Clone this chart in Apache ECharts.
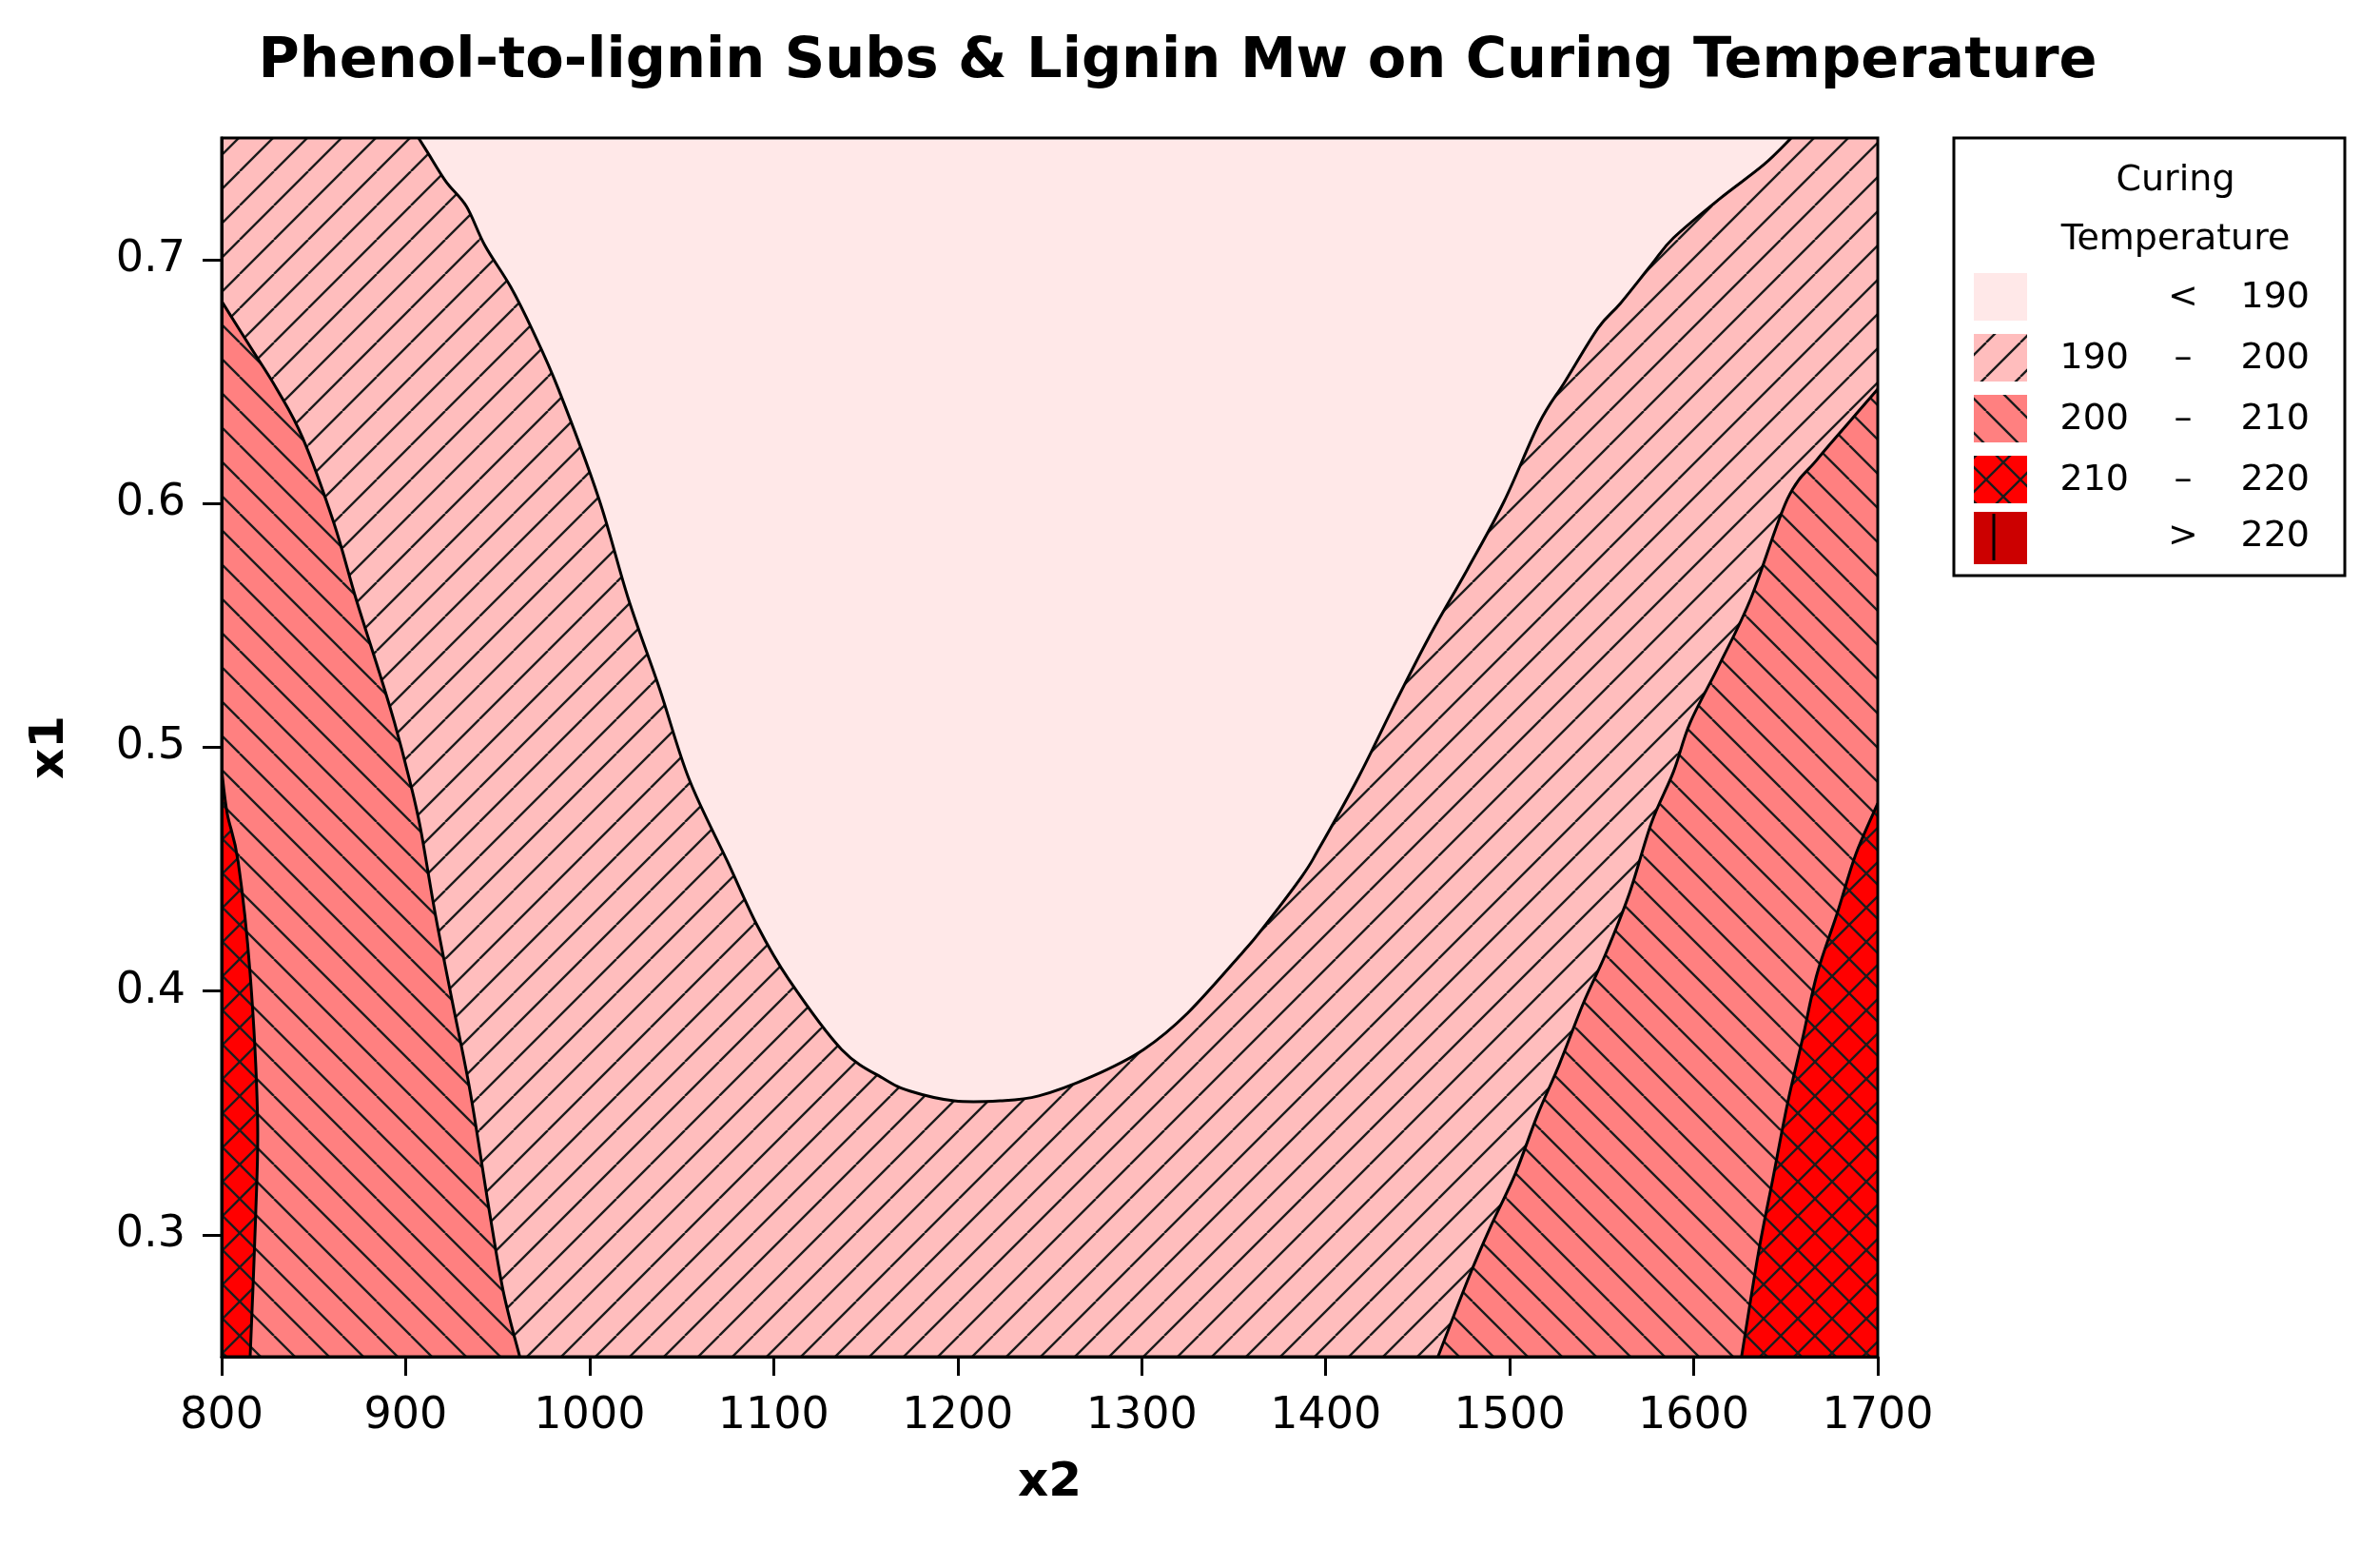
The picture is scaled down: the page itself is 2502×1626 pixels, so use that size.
<!DOCTYPE html>
<html>
<head>
<meta charset="utf-8">
<script src="https://cdn.jsdelivr.net/npm/echarts@6/dist/echarts.min.js"></script>
<style>
html, body { margin: 0; padding: 0; background: #fff; }
#main { width: 2502px; height: 1626px; }
</style>
</head>
<body>
<div id="main"></div>
<script>
// axis ticks
const xTicks = [800, 900, 1000, 1100, 1200, 1300, 1400, 1500, 1600, 1700];
const yTicks = [0.3, 0.4, 0.5, 0.6, 0.7];

// contour levels (legend)
const levelLow = ['', '190', '200', '210', ''];
const levelSep = ['<', '–', '–', '–', '>'];
const levelHigh = ['190', '200', '210', '220', '220'];
const levelColors = ['#FFE8E8', '#FFBDBD', '#FF8080', '#FF0000', '#CC0000'];
const levelHatch = ['none', 'up', 'down', 'cross', 'vert'];

// contour boundaries, [x2, x1]
// < 190 | 190-200 (U shape)
const curveA = [[907, 0.75], [912, 0.744], [922, 0.732], [933, 0.722], [943, 0.706], [957, 0.689],
    [969, 0.671], [983, 0.647], [1005, 0.602], [1021, 0.561], [1038, 0.524], [1054, 0.487],
    [1075, 0.453], [1091, 0.427], [1108, 0.405], [1137, 0.376], [1160, 0.364], [1174, 0.359],
    [1198, 0.355], [1223, 0.355], [1244, 0.357], [1273, 0.365], [1301, 0.376], [1325, 0.391],
    [1355, 0.416], [1365, 0.425], [1387, 0.447], [1396, 0.458], [1418, 0.488], [1437, 0.517],
    [1456, 0.545], [1477, 0.573], [1497, 0.601], [1516, 0.633], [1530, 0.65], [1548, 0.672],
    [1560, 0.682], [1577, 0.698], [1589, 0.709], [1614, 0.725], [1638, 0.739], [1653, 0.75]];
// 190-200 | 200-210, left
const curveB = [[800, 0.683], [815, 0.665], [830, 0.647], [844, 0.627], [861, 0.592], [873, 0.561],
    [886, 0.53], [894, 0.51], [902, 0.487], [908, 0.467], [916, 0.432], [925, 0.397],
    [935, 0.359], [945, 0.312], [953, 0.277], [962, 0.25]];
// 200-210 | 210-220, left strip
const curveC = [[800, 0.491], [803, 0.473], [809, 0.453], [815.5, 0.407], [819.5, 0.349],
    [818.5, 0.308], [815.5, 0.25]];
// 190-200 | 200-210, right
const curveD = [[1700, 0.647], [1684, 0.633], [1667, 0.618], [1651, 0.602], [1631, 0.561],
    [1614, 0.534], [1598, 0.51], [1589, 0.49], [1577, 0.469], [1565, 0.44], [1552, 0.415],
    [1540, 0.395], [1527, 0.37], [1515, 0.349], [1503, 0.325], [1490, 0.304], [1478, 0.283],
    [1461, 0.25]];
// 200-210 | 210-220, right
const curveE = [[1700, 0.477], [1688, 0.456], [1678, 0.432], [1667, 0.407], [1659, 0.38],
    [1651, 0.354], [1643, 0.323], [1635, 0.292], [1626, 0.25]];

const FONT = '"DejaVu Sans", Verdana, sans-serif';

// hatch fill as a repeating canvas pattern
function makePattern(color, hatch) {
    if (hatch === 'none') return color;
    const p = 36;
    const c = document.createElement('canvas');
    c.width = p;
    c.height = p;
    const ctx = c.getContext('2d');
    ctx.fillStyle = color;
    ctx.fillRect(0, 0, p, p);
    ctx.strokeStyle = '#1c1c1c';
    ctx.lineWidth = 2.4;
    ctx.beginPath();
    for (let k = -1; k <= 1; k++) {
        if (hatch === 'up' || hatch === 'cross') {
            ctx.moveTo(k * p, p);
            ctx.lineTo(k * p + p, 0);
        }
        if (hatch === 'down' || hatch === 'cross') {
            ctx.moveTo(k * p, 0);
            ctx.lineTo(k * p + p, p);
        }
    }
    ctx.stroke();
    return { image: c, repeat: 'repeat' };
}

const fills = levelColors.map((c, i) => makePattern(c, levelHatch[i]));

// filled regions, painted bottom to top; curve part is smoothed, corners stay sharp
const regions = [
    { level: 1, curve: [[800, 0.25], [1700, 0.25], [1700, 0.75], [800, 0.75]], flat: true, close: [] },
    { level: 0, curve: curveA, close: [] },
    { level: 2, curve: curveB, close: [[800, 0.25]] },
    { level: 2, curve: curveD, close: [[1700, 0.25]] },
    { level: 3, curve: curveC, close: [[800, 0.25]] },
    { level: 3, curve: curveE, close: [[1700, 0.25]] }
];
const boundaries = [curveA, curveB, curveC, curveD, curveE];

// cubic segments through pixel points (Catmull-Rom)
function smoothSegments(pts) {
    let d = '';
    const n = pts.length;
    for (let i = 0; i < n - 1; i++) {
        const p0 = pts[Math.max(i - 1, 0)];
        const p1 = pts[i];
        const p2 = pts[i + 1];
        const p3 = pts[Math.min(i + 2, n - 1)];
        const c1 = [p1[0] + (p2[0] - p0[0]) / 6, p1[1] + (p2[1] - p0[1]) / 6];
        const c2 = [p2[0] - (p3[0] - p1[0]) / 6, p2[1] - (p3[1] - p1[1]) / 6];
        d += ' C' + c1.join(',') + ' ' + c2.join(',') + ' ' + p2.join(',');
    }
    return d;
}

const chart = echarts.init(document.getElementById('main'));

// legend box
const legendFont = '38px ' + FONT;
const legendGraphics = [
    { type: 'rect', shape: { x: 2054, y: 145, width: 411, height: 460 },
      style: { fill: '#fff', stroke: '#000', lineWidth: 3 } },
    { type: 'text', style: { text: 'Curing', x: 2287, y: 190, font: legendFont,
      fill: '#000', textAlign: 'center', textVerticalAlign: 'middle' } },
    { type: 'text', style: { text: 'Temperature', x: 2287, y: 252, font: legendFont,
      fill: '#000', textAlign: 'center', textVerticalAlign: 'middle' } }
];
const rowTop = [287, 351, 415, 479, 538];
levelColors.forEach((c, i) => {
    const y = rowTop[i];
    const h = i === 4 ? 55 : 50;
    legendGraphics.push({ type: 'rect', shape: { x: 2075, y: y, width: 56, height: h },
        style: { fill: fills[i], stroke: 'none' } });
    if (levelHatch[i] === 'vert') {
        legendGraphics.push({ type: 'line', shape: { x1: 2096, y1: y + 2, x2: 2096, y2: y + h - 4 },
            style: { stroke: '#000', lineWidth: 3 } });
    }
    const ty = y + 26;
    legendGraphics.push({ type: 'text', style: { text: levelLow[i], x: 2238, y: ty,
        font: legendFont, fill: '#000', textAlign: 'right', textVerticalAlign: 'middle' } });
    legendGraphics.push({ type: 'text', style: { text: levelSep[i], x: 2295, y: ty,
        font: legendFont, fill: '#000', textAlign: 'center', textVerticalAlign: 'middle' } });
    legendGraphics.push({ type: 'text', style: { text: levelHigh[i], x: 2428, y: ty,
        font: legendFont, fill: '#000', textAlign: 'right', textVerticalAlign: 'middle' } });
});

const option = {
    backgroundColor: '#fff',
    animation: false,
    title: {
        text: 'Phenol-to-lignin Subs & Lignin Mw on Curing Temperature',
        left: 1233,
        textAlign: 'center',
        top: 31,
        textStyle: { fontFamily: FONT, fontWeight: 'bold', fontSize: 59, color: '#000' }
    },
    grid: {
        left: 233, top: 145, width: 1741, height: 1281,
        show: true, z: 10, backgroundColor: 'transparent',
        borderColor: '#000', borderWidth: 3
    },
    xAxis: {
        type: 'value', min: 800, max: 1700, interval: 100, z: 10,
        name: 'x2', nameLocation: 'middle', nameGap: 108,
        nameTextStyle: { fontFamily: FONT, fontWeight: 'bold', fontSize: 50, color: '#000' },
        axisLine: { lineStyle: { color: '#000', width: 3 } },
        axisTick: { length: 20, lineStyle: { color: '#000', width: 3 } },
        axisLabel: { margin: 40, fontFamily: FONT, fontSize: 46, color: '#000',
            customValues: xTicks, formatter: v => String(v) },
        splitLine: { show: false }
    },
    yAxis: {
        type: 'value', min: 0.25, max: 0.75, z: 10,
        name: 'x1', nameLocation: 'middle', nameGap: 155,
        nameTextStyle: { fontFamily: FONT, fontWeight: 'bold', fontSize: 50, color: '#000' },
        axisLine: { show: true, lineStyle: { color: '#000', width: 3 } },
        axisTick: { show: true, length: 20, lineStyle: { color: '#000', width: 3 },
            customValues: yTicks },
        axisLabel: { margin: 38, fontFamily: FONT, fontSize: 46, color: '#000',
            customValues: yTicks, formatter: v => v.toFixed(1) },
        splitLine: { show: false }
    },
    graphic: legendGraphics,
    series: [
        {
            // filled contour bands
            type: 'custom',
            clip: true,
            z: 2,
            silent: true,
            data: regions.map(r => r.curve[0]),
            renderItem: function (params, api) {
                const r = regions[params.dataIndex];
                const px = r.curve.map(p => api.coord(p));
                let d = 'M' + px[0].join(',');
                d += r.flat ? px.slice(1).map(p => ' L' + p.join(',')).join('') : smoothSegments(px);
                r.close.forEach(p => { d += ' L' + api.coord(p).join(','); });
                d += ' Z';
                return {
                    type: 'path',
                    shape: { pathData: d },
                    style: { fill: fills[r.level], stroke: null }
                };
            }
        },
        {
            // contour lines
            type: 'custom',
            clip: true,
            z: 5,
            silent: true,
            data: boundaries.map(b => b[0]),
            renderItem: function (params, api) {
                const px = boundaries[params.dataIndex].map(p => api.coord(p));
                return {
                    type: 'path',
                    shape: { pathData: 'M' + px[0].join(',') + smoothSegments(px) },
                    style: { fill: null, stroke: '#000', lineWidth: 3 }
                };
            }
        }
    ]
};

chart.setOption(option);
</script>
</body>
</html>
